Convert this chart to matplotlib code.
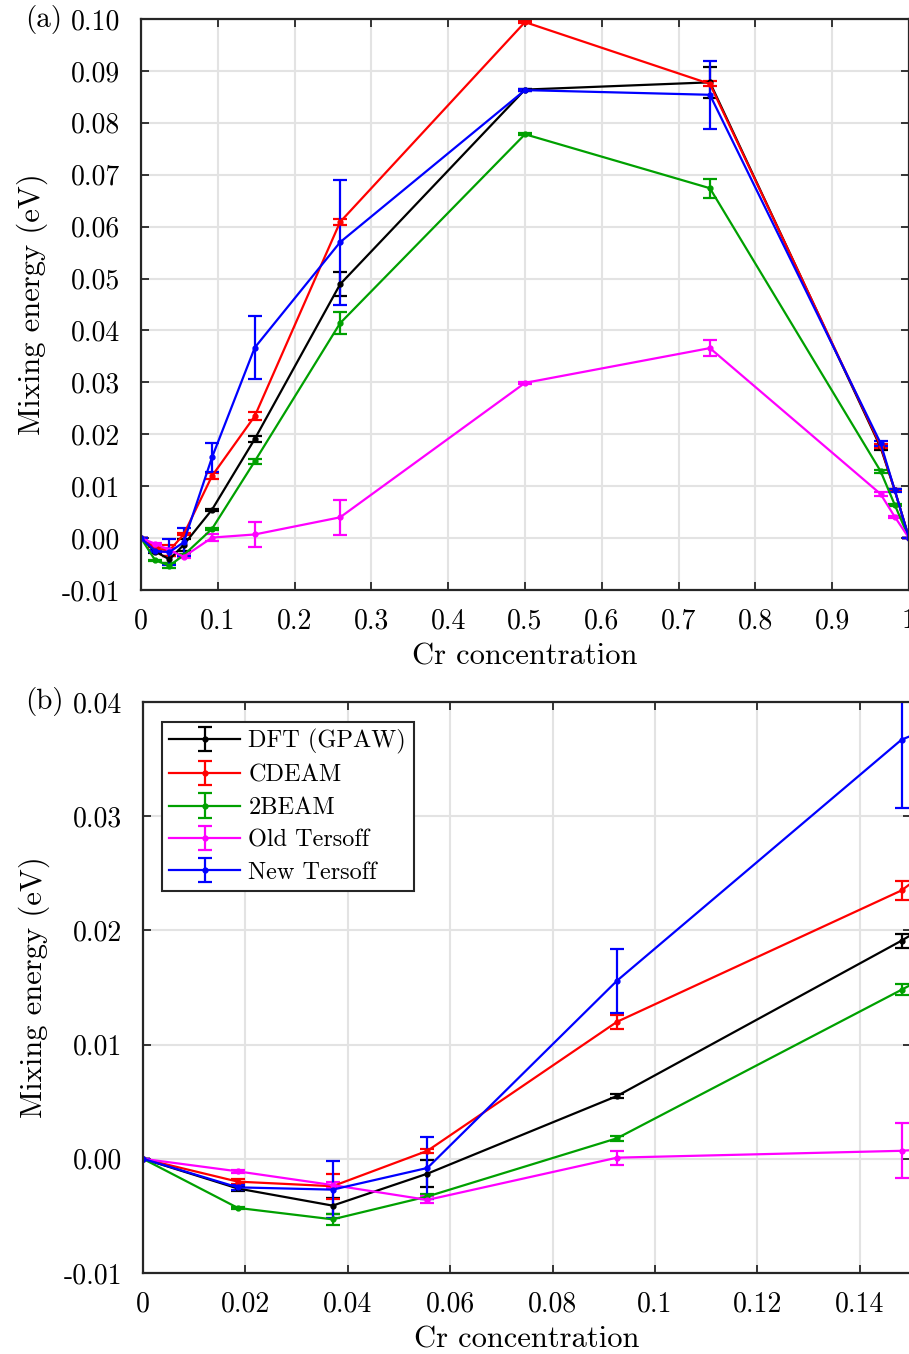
import numpy as np
import matplotlib
matplotlib.use('Agg')
import matplotlib.pyplot as plt

plt.rcParams['font.family'] = ['cmr10', 'DejaVu Serif']
plt.rcParams['axes.unicode_minus'] = False

# Cr concentration (k/54 supercell)
x = np.array([0, 1, 2, 3, 5, 8, 14, 27, 40, 52, 53, 54]) / 54.0

names = ['DFT (GPAW)', 'CDEAM', '2BEAM', 'Old Tersoff', 'New Tersoff']
colors = ['#000000', '#ff0000', '#00a000', '#ff00ff', '#0000ff']

dft = [0, -0.0026, -0.0041, -0.0013, 0.0055, 0.0191, 0.0489, 0.0864, 0.0878, 0.0175, 0.0092, 0]
dft_err = [0, 0.0002, 0.0007, 0.0012, 0.0002, 0.0006, 0.0023, 0.0002, 0.0030, 0.0005, 0.0002, 0]

cdeam = [0, -0.0020, -0.0024, 0.0007, 0.0120, 0.0235, 0.0609, 0.0994, 0.0875, 0.0178, 0.0092, 0]
cdeam_err = [0, 0.0002, 0.0011, 0.0002, 0.0006, 0.0008, 0.0006, 0.0002, 0.0005, 0.0004, 0.0002, 0]

beam2 = [0, -0.0043, -0.0053, -0.0033, 0.0018, 0.0148, 0.0414, 0.0778, 0.0674, 0.0129, 0.0064, 0]
beam2_err = [0, 0.0001, 0.0005, 0.0002, 0.0002, 0.0005, 0.0021, 0.0002, 0.0018, 0.0003, 0.0002, 0]

old_t = [0, -0.0011, -0.0023, -0.0036, 0.0001, 0.0007, 0.0040, 0.0299, 0.0366, 0.0085, 0.0041, 0]
old_t_err = [0, 0.0001, 0.0003, 0.0003, 0.0006, 0.0024, 0.0034, 0.0002, 0.0015, 0.0003, 0.0002, 0]

new_t = [0, -0.0025, -0.0027, -0.0008, 0.0156, 0.0367, 0.0570, 0.0863, 0.0854, 0.0183, 0.0092, 0]
new_t_err = [0, 0.0002, 0.0025, 0.0027, 0.0028, 0.0060, 0.0120, 0.0002, 0.0065, 0.0005, 0.0003, 0]

series = [(dft, dft_err), (cdeam, cdeam_err), (beam2, beam2_err), (old_t, old_t_err), (new_t, new_t_err)]

xt_a = [0, 0.1, 0.2, 0.3, 0.4, 0.5, 0.6, 0.7, 0.8, 0.9, 1.0]
xl_a = ['0', '0.1', '0.2', '0.3', '0.4', '0.5', '0.6', '0.7', '0.8', '0.9', '1']
yt_a = [-0.01, 0, 0.01, 0.02, 0.03, 0.04, 0.05, 0.06, 0.07, 0.08, 0.09, 0.10]
yl_a = ['-0.01', '0.00', '0.01', '0.02', '0.03', '0.04', '0.05', '0.06', '0.07', '0.08', '0.09', '0.10']

xt_b = [0, 0.02, 0.04, 0.06, 0.08, 0.10, 0.12, 0.14]
xl_b = ['0', '0.02', '0.04', '0.06', '0.08', '0.1', '0.12', '0.14']
yt_b = [-0.01, 0, 0.01, 0.02, 0.03, 0.04]
yl_b = ['-0.01', '0.00', '0.01', '0.02', '0.03', '0.04']

fig = plt.figure(figsize=(9.09, 13.54), dpi=100)
W, H = 909.0, 1354.0
ax1 = fig.add_axes([141 / W, 1 - 590 / H, 768 / W, 571 / H])
ax2 = fig.add_axes([143 / W, 1 - 1273 / H, 768 / W, 571 / H])

fs = 20     # tick labels
fl = 22     # axis labels


def style(ax, xt, xl, yt, yl, xlim, ylim):
    ax.set_xlim(*xlim)
    ax.set_ylim(*ylim)
    ax.set_xticks(xt)
    ax.set_xticklabels(xl)
    ax.set_yticks(yt)
    ax.set_yticklabels(yl)
    ax.grid(True, color='#e3e3e3', linewidth=1.5)
    ax.set_axisbelow(True)
    ax.tick_params(direction='in', top=True, right=True, length=6, width=1.3,
                   labelsize=fs, color='#262626')
    ax.tick_params(axis='y', pad=15)
    ax.tick_params(axis='x', pad=13)
    for s in ax.spines.values():
        s.set_linewidth(1.6)
        s.set_color('#262626')
    ax.set_xlabel('Cr concentration', fontsize=fl, labelpad=6)
    ax.set_ylabel('Mixing energy (eV)', fontsize=fl, labelpad=10)


for (y, e), c, n in zip(series, colors, names):
    for ax in (ax1, ax2):
        ax.errorbar(x, y, yerr=e, color=c, lw=1.6, marker='o', ms=3.5,
                    capsize=5, capthick=1.6, elinewidth=1.6, label=n)

style(ax1, xt_a, xl_a, yt_a, yl_a, (0, 1.0), (-0.01, 0.10))
style(ax2, xt_b, xl_b, yt_b, yl_b, (0, 0.15), (-0.01, 0.04))

leg = ax2.legend(loc='upper left', fontsize=17.5, frameon=True, fancybox=False,
                 edgecolor='#262626', borderpad=0.3, labelspacing=0.42,
                 handlelength=2.9, handletextpad=0.35, borderaxespad=0,
                 bbox_to_anchor=(0.025, 0.965))
leg.get_frame().set_linewidth(1.5)
leg.get_frame().set_alpha(1)

fig.text(25 / W, 1 - 19 / H, '(a)', fontsize=21, va='center', ha='left')
fig.text(25 / W, 1 - 702 / H, '(b)', fontsize=21, va='center', ha='left')

fig.savefig('out.png', dpi=100)
